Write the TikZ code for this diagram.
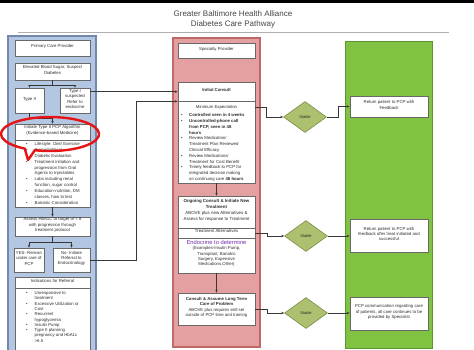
\documentclass[tikz,border=0pt]{standalone}
\usepackage{fontspec}
\setmainfont{Liberation Sans}
\usetikzlibrary{shapes.geometric,arrows.meta,fit}
\definecolor{bluefill}{RGB}{180,199,226}
\definecolor{blueedge}{RGB}{115,136,172}
\definecolor{pinkfill}{RGB}{228,160,160}
\definecolor{pinkedge}{RGB}{192,104,104}
\definecolor{greenfill}{RGB}{128,194,66}
\definecolor{greenedge}{RGB}{92,150,52}
\definecolor{dfill}{RGB}{172,192,112}
\definecolor{dedge}{RGB}{122,142,72}
\definecolor{boxgray}{RGB}{105,105,105}
\definecolor{txt}{RGB}{45,45,45}
\definecolor{linec}{RGB}{55,55,55}
\definecolor{purp}{RGB}{115,50,175}
\definecolor{rulegray}{RGB}{175,175,175}
\definecolor{redring}{RGB}{230,20,20}
\begin{document}
\begin{tikzpicture}[x=1pt,y=-1pt,
  box/.style={draw=boxgray, fill=white, line width=0.6pt, inner sep=0pt, align=center,
    font=\fontsize{4.3}{5.2}\selectfont, text=txt},
  conn/.style={draw=linec, line width=0.5pt},
  tip/.style={-{Stealth[length=3pt,width=2.4pt]}},
  colblue/.style={draw=blueedge, fill=bluefill, line width=1.4pt, inner sep=0pt},
  colpink/.style={draw=pinkedge, fill=pinkfill, line width=1.8pt, inner sep=0pt},
  colgreen/.style={draw=greenedge, fill=greenfill, line width=1pt, inner sep=0pt},
  stable/.style={shape=diamond, draw=dedge, fill=dfill, line width=0.6pt, minimum width=43pt,
    minimum height=31pt, inner sep=0pt, font=\fontsize{4}{5}\selectfont, text=txt},
  lst/.style={inner sep=0pt, anchor=north west, align=left, text=txt},
  titletxt/.style={font=\fontsize{8}{9}\selectfont, text={rgb,255:red,70;green,70;blue,70}, inner sep=0pt}
]
\useasboundingbox (0,0) rectangle (474,349);
\fill[white] (0,0) rectangle (474,349);
\fill[black] (0,0) rectangle (474,3);

% title
\node[titletxt] (t1line) at (233,14) {Greater Baltimore Health Alliance};
\node[titletxt] (t2line) at (233,24) {Diabetes Care Pathway};
\draw[rulegray, line width=1pt] (18,32) -- (449,32);

% columns
\node[colblue, fit={(8,36) (96,356)}] (colA) {};
\node[colpink, fit={(173,38) (260,347)}] (colB) {};
\node[colgreen, fit={(345,41) (432,348)}] (colC) {};

% left column boxes
\node[box, fit={(15,40) (90,56)}] (pcp) {Primary Care Provider};
\node[box, fit={(15,63) (90,80)}] (elev) {Elevated Blood Sugar, Suspect\\Diabetes};
\node[box, fit={(15,88) (44,113)}] (typeii) {Type II};
\node[box, fit={(60,88) (90,113)}] (typei) {Type I\\suspected\\Refer to\\endocrine};
\node[box, fit={(15,124) (90,140)}] (init) {Initiate Type II PCP Algorithm\\(Evidence-based Medicine)};
\node[box, fit={(15,140) (90,207)}] (initbox) {};
\node[lst, font=\fontsize{4.3}{5.85}\selectfont] (initlist) at (26,141.3) {%
\begin{tabular}{@{}l@{\hspace{7pt}}l@{}}
\textbullet & Lifestyle: Diet/ Exercise\\
\textbullet & Comorbidities/\\
 & Diabetic Evaluation\\
\textbullet & Treatment initiation and\\
 & progression from Oral\\
 & Agents to Injectables\\
\textbullet & Labs including renal\\
 & function, sugar control\\
\textbullet & Education-nutrition, DM\\
 & classes, how to test\\
\textbullet & Bariatric Consideration
\end{tabular}};
\node[box, fit={(15,217) (90,236)}] (assess) {Assess HbA1C to target of {\textless} 8\\with progression through\\treatment protocol};
\node[box, fit={(14,248) (44,272)}] (yes) {YES- Remain\\under care of\\PCP};
\node[box, fit={(53,248) (90,272)}] (no) {No- Initiate\\Referral to\\Endocrinology};
\node[box, fit={(15,277) (90,288)}] (ind) {Indications for Referral};
\node[box, fit={(15,288) (90,356)}] (indbox) {};
\node[lst, font=\fontsize{4.3}{5.3}\selectfont] (indlist) at (26,290.6) {%
\begin{tabular}{@{}l@{\hspace{7pt}}l@{}}
\textbullet & Unresponsive to\\
 & treatment\\
\textbullet & Excessive Utilization or\\
 & Cost\\
\textbullet & Recurrent\\
 & hypoglycemia\\
\textbullet & Insulin Pump\\
\textbullet & Type II planning\\
 & pregnancy and HbA1c\\
 & {\textgreater}6.5
\end{tabular}};

% middle column boxes
\node[box, fit={(178,43) (255,58)}] (spec) {Specialty Provider};
\node[box, fit={(178,82) (255,101)}] (ic) {\textbf{Initial Consult}};
\node[box, fit={(178,101) (255,183)}] (mebox) {};
\node[inner sep=0pt, font=\fontsize{4.3}{5}\selectfont, text=txt] (metitle) at (216.5,107.5) {Minimum Expectation};
\node[lst, font=\fontsize{4.3}{5.8}\selectfont] (melist) at (181,112.4) {%
\begin{tabular}{@{}l@{\hspace{6.5pt}}l@{}}
\textbullet & \textbf{Controlled seen in 4 weeks}\\
\textbullet & \textbf{Uncontrolled-phone call}\\
 & \textbf{from PCP, seen in 48}\\
 & \textbf{hours}\\
\textbullet & Review Medication/\\
 & Treatment Plan Reviewed\\
 & Clinical Efficacy\\
\textbullet & Review Medications/\\
 & Treatment for Cost Benefit\\
\textbullet & Timely feedback to PCP for\\
 & integrated decision making\\
 & on continuing care \textbf{48 hours}
\end{tabular}};
\node[box, fit={(178,196) (255,228)}, font=\fontsize{4.4}{6}\selectfont] (og) {\textbf{Ongoing Consult \& Initiate New}\\\textbf{Treatment}\\ABOVE plus new Alternatives \&\\Assess for response to Treatment};
\node[box, fit={(178,228) (255,238)}] (ta) {Treatment Alternatives};
\node[box, fit={(178,238) (255,273)}] (en) {{\fontsize{5.8}{6.4}\selectfont\color{purp}Endocrine to determine}\\(Examples-Insulin Pump,\\Transplant, Bariatric\\Surgery, Expensive\\Medications,Other)};
\node[box, fit={(178,293) (255,325)}] (cs) {\textbf{Consult \& Assume Long Term}\\\textbf{Care of Problem}\\ABOVE plus requires skill set\\outside of PCP time and training};

% diamonds
\node[stable] (d1) at (305,117) {Stable};
\node[stable] (d2) at (306,236) {Stable};
\node[stable] (d3) at (306,313) {Stable};

% right column boxes
\node[box, fit={(350,96) (428,117)}] (r1) {Return patient to PCP with\\Feedback};
\node[box, fit={(350,219) (428,252)}] (r2) {Return patient to PCP with\\feedback after treat initiated and\\successful};
\node[box, fit={(350,297) (428,330)}] (r3) {PCP communication regarding care\\of patients, all care continues to be\\provided by Specialist};

% connectors left column
\draw[conn,tip] (elev.south) -- ++(0,4.5) -| (typeii.north);
\draw[conn,tip] (elev.south) -- ++(0,4.5) -| (typei.north);
\draw[conn,tip] (typeii.south) -- ++(0,5) -| (init.north);
\draw[conn,tip] (initbox.south) -- (assess.north);
\draw[conn,tip] (assess.south) -- ++(0,5.5) -| (yes.north);
\draw[conn,tip] (assess.south) -- ++(0,5.5) -| (no.north);

% cross connectors
\coordinate (t1out) at ([yshift=-4pt]typei.north east);
\draw[conn,tip] (t1out) -- (t1out -| ic.west);
\draw[conn,tip] (no.east) -- ++(46,0) |- (ic.south west);

% middle column flow
\draw[conn,tip] (metitle -| mebox.east) -- ++(11,0) |- (d1.west);
\draw[conn,tip] (d1.east) -- ++(11,0) |- (r1.west);
\draw[conn,tip] (mebox.south) -- (og.north);
\draw[conn,tip] (ta.east) -- ++(12,0) |- (d2.west);
\draw[conn,tip] (d2.east) -- (d2.east -| r2.west);
\draw[conn,tip] (en.south) -- (cs.north);
\draw[conn,tip] (cs.east) -- ++(12,0) |- (d3.west);
\draw[conn,tip] (d3.east) -- (d3.east -| r3.west);

% red callout ring
\draw[redring, line width=2.4pt, line join=round]
  (24.8,148.6) arc[start angle=121, end angle=468, x radius=49, y radius=17] -- (28,160) -- cycle;
\end{tikzpicture}
\end{document}
